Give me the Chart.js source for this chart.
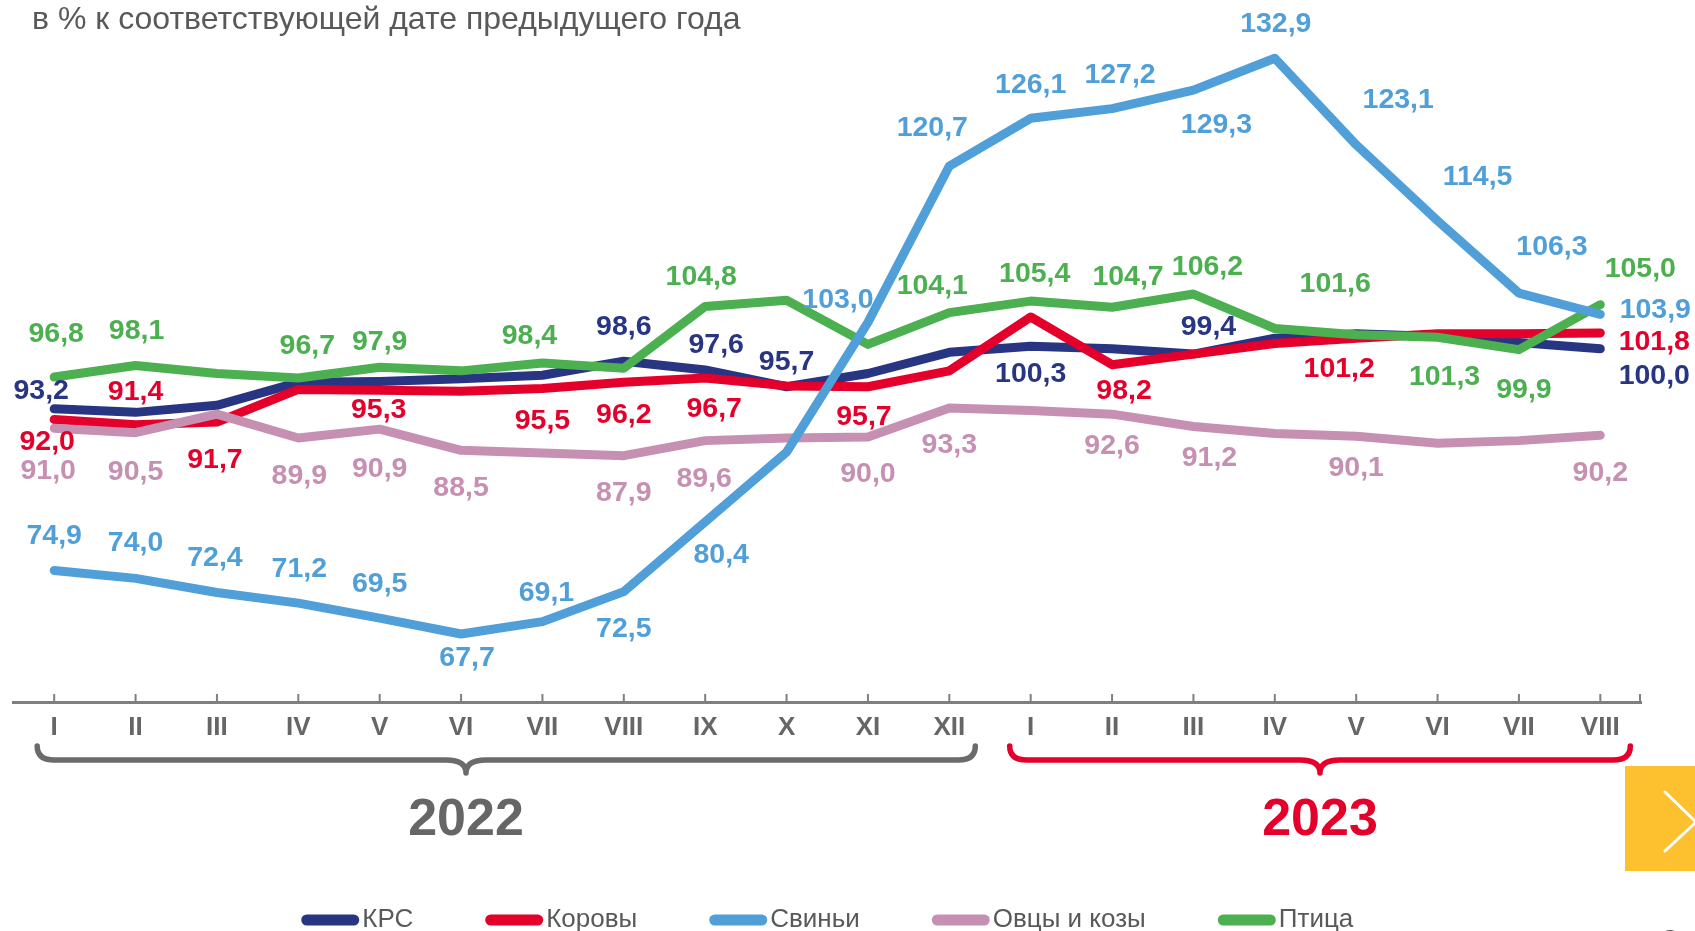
<!DOCTYPE html>
<html><head><meta charset="utf-8">
<script src="https://cdn.jsdelivr.net/npm/chart.js@4.4.1/dist/chart.umd.min.js"></script>
<style>html,body{margin:0;padding:0;background:#fff;overflow:hidden}canvas{display:block}</style>
</head><body>
<canvas id="c" width="1695" height="931"></canvas>
<script>
// ---- data ----
const months = ['I','II','III','IV','V','VI','VII','VIII','IX','X','XI','XII','I','II','III','IV','V','VI','VII','VIII'];
const years = ['2022', '2023'];
const title = 'в % к соответствующей дате предыдущего года';
const seriesNames = ['КРС', 'Коровы', 'Свиньи', 'Овцы и козы', 'Птица'];
const krs     = [93.2, 92.8, 93.6, 96.2, 96.3, 96.6, 97.0, 98.6, 97.6, 95.7, 97.2, 99.6, 100.3, 100.0, 99.4, 101.2, 101.7, 101.4, 100.7, 100.0];
const cows    = [92.0, 91.4, 91.7, 95.4, 95.3, 95.2, 95.5, 96.2, 96.7, 95.8, 95.7, 97.5, 103.6, 98.2, 99.4, 100.6, 101.2, 101.7, 101.7, 101.8];
const pigs    = [74.9, 74.0, 72.4, 71.2, 69.5, 67.7, 69.1, 72.5, 80.4, 88.3, 103.0, 120.7, 126.1, 127.2, 129.3, 132.9, 123.1, 114.5, 106.3, 103.9];
const sheep   = [91.0, 90.5, 92.6, 89.9, 90.9, 88.5, 88.2, 87.9, 89.6, 89.9, 90.0, 93.3, 93.0, 92.6, 91.2, 90.4, 90.1, 89.3, 89.6, 90.2];
const poultry = [96.8, 98.1, 97.2, 96.7, 97.9, 97.5, 98.4, 97.8, 104.8, 105.5, 100.5, 104.1, 105.4, 104.7, 106.2, 102.3, 101.6, 101.3, 99.9, 105.0];

// ---- styles / label placement (offsets from point, px; null = no label) ----
const colors = ['#283583', '#E4002B', '#519FD8', '#C690B3', '#4CAF50'];
const N = null;
const krsLbl     = [[-13,-18],N,N,N,N,N,N,[0,-34],[11,-25],[0,-25],N,N,[0,28],N,[15,-27],N,N,N,N,[54,27]];
const cowsLbl    = [[-7,23],[0,-33],[-2,38],N,[-1,20],N,[0,33],[0,33],[9,31],N,[-4,30],N,N,[12,26],N,N,[-17,31],N,N,[54,9]];
const pigsLbl    = [[0,-34],[0,-35],[-2,-34],[1,-34],[0,-34],[6,24],[4,-29],[0,38],[16,33],N,[-30,-22],[-17,-38],[0,-33],[8,-33],[23,35],[1,-34],[42,-45],[40,-44],[33,-46],[55,-4]];
const sheepLbl   = [[-6,43],[0,39],N,[1,38],[0,40],[0,38],N,[0,38],[-1,39],N,[0,37],[0,37],N,[0,32],[16,32],N,[0,32],N,N,[0,38]];
const poultryLbl = [[2,-43],[1,-34],N,[9,-32],[0,-25],N,[-13,-27],N,[-4,-29],N,N,[-17,-26],[4,-27],[16,-30],[14,-27],N,[-21,-51],[7,40],[5,40],[40,-36]];

const FONT = '"Liberation Sans", Arial, sans-serif';
const W = 1695, H = 931, AXIS_Y = 702;

const seriesData = [krs, cows, pigs, sheep, poultry];
const seriesLbl = [krsLbl, cowsLbl, pigsLbl, sheepLbl, poultryLbl];
const drawOrder = [4, 3, 0, 2, 1];

const fmt = v => v.toFixed(1).replace('.', ',');

const labelsPlugin = {
  id: 'valueLabels',
  afterDatasetsDraw(chart) {
    const ctx = chart.ctx;
    ctx.save();
    ctx.font = 'bold 28.5px ' + FONT;
    ctx.textAlign = 'center';
    ctx.textBaseline = 'middle';
    chart.data.datasets.forEach((ds, di) => {
      const meta = chart.getDatasetMeta(di);
      const offs = seriesLbl[di];
      ctx.fillStyle = colors[di];
      meta.data.forEach((pt, i) => {
        const o = offs[i];
        if (!o) return;
        ctx.fillText(fmt(ds.data[i]), pt.x + o[0], pt.y + o[1]);
      });
    });
    ctx.restore();
  }
};

function brace(ctx, x1, x2, xm, yTop, yLine, yTip, r, rm) {
  ctx.beginPath();
  ctx.moveTo(x1, yTop);
  ctx.quadraticCurveTo(x1, yLine, x1 + r, yLine);
  ctx.lineTo(xm - rm, yLine);
  ctx.quadraticCurveTo(xm, yLine, xm, yTip);
  ctx.quadraticCurveTo(xm, yLine, xm + rm, yLine);
  ctx.lineTo(x2 - r, yLine);
  ctx.quadraticCurveTo(x2, yLine, x2, yTop);
  ctx.stroke();
}

const decorPlugin = {
  id: 'decor',
  afterDraw(chart) {
    const ctx = chart.ctx;
    const xs = chart.scales.x;
    const area = chart.chartArea;
    ctx.save();
    // upward tick marks
    ctx.strokeStyle = '#7f7f7f';
    ctx.lineWidth = 2;
    const tickXs = months.map((m, i) => xs.getPixelForTick(i)).concat([area.right - 1]);
    tickXs.forEach(x => {
      ctx.beginPath();
      ctx.moveTo(x, AXIS_Y);
      ctx.lineTo(x, AXIS_Y - 8);
      ctx.stroke();
    });
    // title
    ctx.fillStyle = '#595959';
    ctx.font = '32px ' + FONT;
    ctx.textAlign = 'left';
    ctx.textBaseline = 'middle';
    ctx.fillText(title, 32, 20);
    // braces
    ctx.lineWidth = 5.5;
    ctx.lineCap = 'round';
    ctx.lineJoin = 'round';
    const p = i => xs.getPixelForTick(i);
    ctx.strokeStyle = '#6b6b6b';
    const g1 = p(0) - 17, g2 = p(11) + 26, gm = 466;
    brace(ctx, g1, g2, gm, 746, 760, 773, 17, 20);
    ctx.strokeStyle = '#E4002B';
    const r1 = p(12) - 21, r2 = p(19) + 30, rm = (r1 + r2) / 2;
    brace(ctx, r1, r2, rm, 746, 760, 773, 17, 20);
    // years
    ctx.font = 'bold 52px ' + FONT;
    ctx.textAlign = 'center';
    ctx.fillStyle = '#666666';
    ctx.fillText(years[0], gm, 821);
    ctx.fillStyle = '#E4002B';
    ctx.fillText(years[1], rm, 821);
    // legend
    ctx.font = '26px ' + FONT;
    ctx.textAlign = 'left';
    const sw = 58, tgap = 3, igap = 72;
    const widths = seriesNames.map(n => ctx.measureText(n).width);
    const total = widths.reduce((a, w) => a + sw + tgap + w, 0) + igap * (seriesNames.length - 1);
    let x = (area.left + area.right) / 2 - total / 2;
    const ly = 920;
    seriesNames.forEach((n, i) => {
      ctx.strokeStyle = colors[i];
      ctx.lineWidth = 11;
      ctx.lineCap = 'round';
      ctx.beginPath();
      ctx.moveTo(x + 5.5, ly);
      ctx.lineTo(x + sw - 5.5, ly);
      ctx.stroke();
      ctx.fillStyle = '#595959';
      ctx.fillText(n, x + sw + tgap, ly);
      x += sw + tgap + widths[i] + igap;
    });
    // yellow navigation box
    ctx.fillStyle = '#FDC02F';
    ctx.fillRect(1625, 766, 70, 105);
    ctx.strokeStyle = '#ffffff';
    ctx.lineWidth = 3;
    ctx.lineCap = 'round';
    ctx.beginPath();
    ctx.moveTo(1665, 792);
    ctx.lineTo(1696, 822);
    ctx.lineTo(1665, 851);
    ctx.stroke();
    // partial dark circle at bottom edge
    ctx.fillStyle = '#555555';
    ctx.beginPath();
    ctx.arc(1670, 941, 11, 0, Math.PI * 2);
    ctx.fill();
    ctx.restore();
  }
};

const datasets = seriesNames.map((name, i) => ({
  label: name,
  data: seriesData[i],
  borderColor: colors[i],
  backgroundColor: colors[i],
  borderWidth: 9,
  borderCapStyle: 'round',
  borderJoinStyle: 'round',
  pointRadius: 0,
  pointHoverRadius: 0,
  tension: 0,
  fill: false,
  order: drawOrder[i]
}));

new Chart(document.getElementById('c'), {
  type: 'line',
  data: { labels: months, datasets },
  options: {
    responsive: false,
    devicePixelRatio: 1,
    animation: false,
    layout: { padding: { left: 13.5, right: 54, top: 0, bottom: 0 } },
    plugins: { legend: { display: false }, tooltip: { enabled: false }, title: { display: false } },
    scales: {
      x: {
        type: 'category',
        offset: true,
        grid: { display: false, drawTicks: false },
        border: { display: true, color: '#7f7f7f', width: 3 },
        ticks: {
          autoSkip: false, maxRotation: 0, minRotation: 0,
          color: '#666666', padding: 10,
          font: { family: FONT, size: 26, weight: 'bold' }
        },
        afterFit(s) { s.height = H - AXIS_Y; }
      },
      y: { display: false, min: 60, max: 139.5 }
    }
  },
  plugins: [labelsPlugin, decorPlugin]
});
</script>
</body></html>
